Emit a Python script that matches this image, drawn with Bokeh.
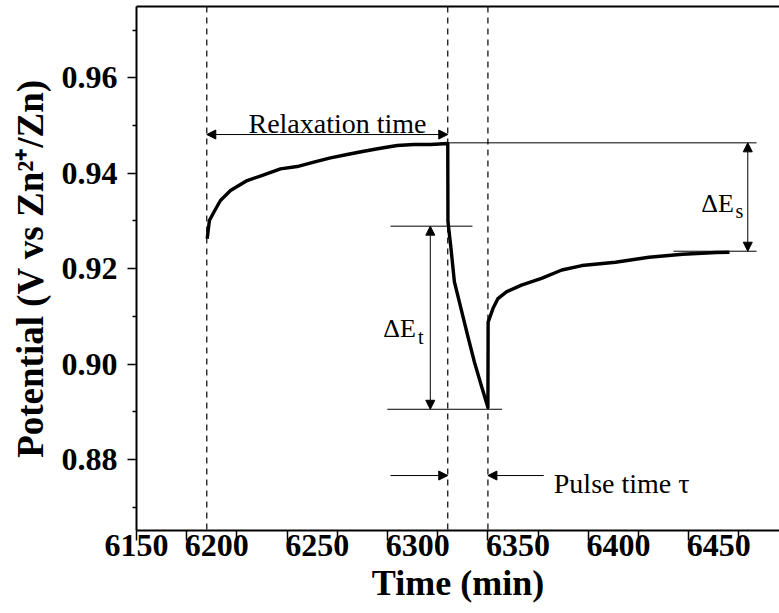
from bokeh.plotting import figure
from bokeh.models import (Range1d, FixedTicker, NumeralTickFormatter, LinearAxis,
                          Span, Arrow, NormalHead)
from bokeh.core.properties import value
from bokeh.embed import file_html
from bokeh.resources import INLINE

# ---------------- data ----------------
time_min = [6185.2, 6186.3, 6188.5, 6191.8, 6196.8, 6205.1, 6213.4, 6221.7, 6230.0,
            6238.3, 6246.6, 6254.9, 6263.2, 6271.5, 6279.8, 6288.1, 6296.4, 6305.0,
            6305.1, 6306.6, 6308.3, 6311.6, 6314.9, 6318.3, 6321.7, 6325.0,
            6325.1, 6327.5, 6330.0, 6334.2, 6341.7, 6351.7, 6361.8, 6371.8, 6388.5,
            6405.2, 6421.9, 6438.6, 6445.3]
potential = [0.92625, 0.93008, 0.93182, 0.93428, 0.93637, 0.93847, 0.93967, 0.94092, 0.94140,
             0.94231, 0.94323, 0.94392, 0.94461, 0.94524, 0.94581, 0.94602, 0.94602, 0.94623,
             0.92987, 0.92428, 0.91725, 0.91163, 0.90598, 0.90038, 0.89549, 0.89088,
             0.90880, 0.91163, 0.91373, 0.91514, 0.91654, 0.91795, 0.91971, 0.92065, 0.92134,
             0.92239, 0.92302, 0.92338, 0.92344]

x_tick_values = [6150, 6200, 6250, 6300, 6350, 6400, 6450]
x_tick_labels = ["6150", "6200", "6250", "6300", "6350", "6400", "6450"]
x_minor_ticks = [6175, 6225, 6275, 6325, 6375, 6425]
y_tick_values = [0.88, 0.90, 0.92, 0.94, 0.96]
y_minor_ticks = [0.87, 0.89, 0.91, 0.93, 0.95, 0.97]

relax_start, pulse_start, pulse_end = 6185.0, 6305.0, 6325.0
es_top, es_bottom = 0.94637, 0.92365
et_top, et_bottom = 0.92890, 0.89052

FONT = "Liberation Serif"
X0, X1 = 6150, 6470.2
LABEL_SHIFT = 10  # tick labels of the original sit ~10 min left of their ticks

p = figure(width=779, height=613, output_backend="svg", toolbar_location=None,
           x_range=Range1d(X0, X1), y_range=Range1d(0.86511, 0.97495),
           min_border_left=136, min_border_right=0, min_border_top=6, min_border_bottom=83,
           background_fill_color="white", border_fill_color="white")
p.outline_line_color = None
p.grid.visible = False
p.extra_x_ranges = {"lbl": Range1d(X0 + LABEL_SHIFT, X1 + LABEL_SHIFT)}

# x axis: ticks only
xa = p.xaxis[0]
xa.ticker = FixedTicker(ticks=x_tick_values, minor_ticks=x_minor_ticks)
xa.major_label_overrides = {v: "" for v in x_tick_values}
xa.major_label_text_font_size = "0px"
xa.major_label_standoff = 0
xa.axis_line_width = 2
xa.major_tick_out = 10
xa.major_tick_in = 0
xa.minor_tick_out = 10
xa.minor_tick_in = 0
xa.major_tick_line_width = 1.5
xa.minor_tick_line_width = 1.5

# x axis: tick labels + title (labels shifted as in the original)
label_ticks = [max(v, X0 + LABEL_SHIFT) for v in x_tick_values]
xl = LinearAxis(x_range_name="lbl", ticker=FixedTicker(ticks=label_ticks),
                major_label_overrides=dict(zip(label_ticks, x_tick_labels)))
xl.axis_line_color = None
xl.major_tick_line_color = None
xl.minor_tick_line_color = None
xl.major_tick_out = 0
xl.minor_tick_out = 0
xl.major_label_text_font = FONT
xl.major_label_text_font_style = "bold"
xl.major_label_text_font_size = "32px"
xl.major_label_text_color = "black"
xl.major_label_standoff = -6
xl.axis_label = "Time (min)"
xl.axis_label_text_font = FONT
xl.axis_label_text_font_style = "bold"
xl.axis_label_text_font_size = "36px"
xl.axis_label_text_color = "black"
xl.axis_label_standoff = 4
p.add_layout(xl, "below")

# y axis
ya = p.yaxis[0]
ya.ticker = FixedTicker(ticks=y_tick_values, minor_ticks=y_minor_ticks)
ya.formatter = NumeralTickFormatter(format="0.00")
ya.axis_line_width = 2
ya.major_tick_out = 9
ya.major_tick_in = 0
ya.minor_tick_out = 4
ya.minor_tick_in = 0
ya.major_tick_line_width = 1.5
ya.minor_tick_line_width = 1.5
ya.major_label_text_font = FONT
ya.major_label_text_font_style = "bold"
ya.major_label_text_font_size = "32px"
ya.major_label_text_color = "black"
ya.major_label_standoff = 10
ya.axis_label = "Potential (V vs Zn\u00b2\u207a/Zn)"
ya.axis_label_text_font = FONT
ya.axis_label_text_font_style = "bold"
ya.axis_label_text_font_size = "37px"
ya.axis_label_text_color = "black"
ya.axis_label_standoff = 8

# top frame line
top = LinearAxis(ticker=FixedTicker(ticks=[]), axis_line_width=2,
                 major_tick_out=0, major_tick_in=0, minor_tick_out=0, minor_tick_in=0,
                 major_label_text_font_size="0px")
p.add_layout(top, "above")

# dashed markers
for loc in (relax_start, pulse_start, pulse_end):
    p.add_layout(Span(location=loc, dimension="height", line_color="black",
                      line_dash="6 5", line_width=1.2))

# curve
p.line(time_min, potential, line_color="black", line_width=3.4, line_join="round")

# guide lines
p.segment(x0=[pulse_start, 6417.4, 6276.5, 6274.9], y0=[es_top, es_bottom, et_top, et_bottom],
          x1=[6458.8, 6458.8, 6317.3, 6332.0], y1=[es_top, es_bottom, et_top, et_bottom],
          line_color="black", line_width=1)

def head():
    return NormalHead(size=9, fill_color="black", line_color="black", line_width=1)

# arrows
p.add_layout(Arrow(x_start=relax_start, y_start=0.94811, x_end=pulse_start, y_end=0.94811,
                   start=head(), end=head(), line_color="black", line_width=1))
p.add_layout(Arrow(x_start=6454.4, y_start=es_top, x_end=6454.4, y_end=es_bottom,
                   start=head(), end=head(), line_color="black", line_width=1))
p.add_layout(Arrow(x_start=6296.3, y_start=et_top, x_end=6296.3, y_end=et_bottom,
                   start=head(), end=head(), line_color="black", line_width=1))
p.add_layout(Arrow(x_start=6276.5, y_start=0.87663, x_end=pulse_start, y_end=0.87663,
                   start=None, end=head(), line_color="black", line_width=1))
p.add_layout(Arrow(x_start=6352.8, y_start=0.87663, x_end=pulse_end, y_end=0.87663,
                   start=None, end=head(), line_color="black", line_width=1))

# texts
p.text(x=[6250.1], y=[0.95048], text=["Relaxation time"], text_font=value(FONT),
       text_font_size=value("28px"), text_align="center", text_baseline="alphabetic",
       text_color="black")
p.text(x=[6357.8], y=[0.87489], text=["Pulse time \u03c4"], text_font=value(FONT),
       text_font_size=value("28px"), text_align="left", text_baseline="alphabetic",
       text_color="black")
p.text(x=[6431.2, 6272.9], y=[0.93358, 0.90744], text=["\u0394E", "\u0394E"],
       text_font=value(FONT), text_font_size=value("26px"), text_align="left",
       text_baseline="alphabetic", text_color="black")
p.text(x=[6448.3, 6290.2], y=[0.93218, 0.90577], text=["s", "t"],
       text_font=value(FONT), text_font_size=value("20px"), text_align="left",
       text_baseline="alphabetic", text_color="black")

open("out.html", "w").write(file_html(p, INLINE))
